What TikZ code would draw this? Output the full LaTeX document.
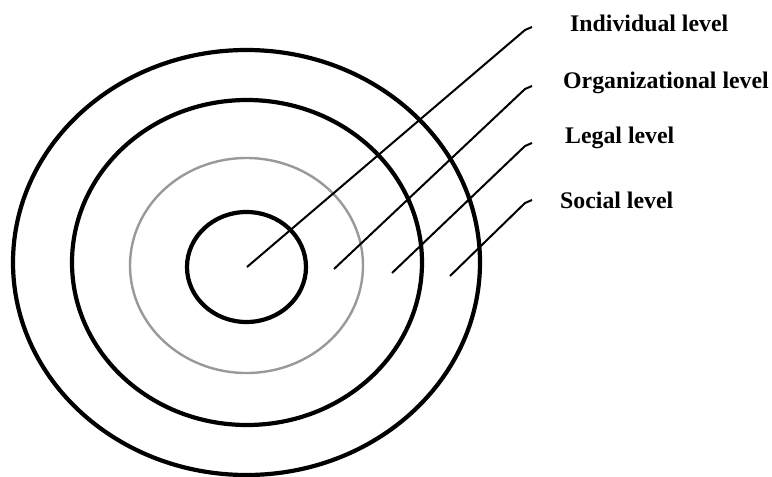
\documentclass[tikz,border=0pt]{standalone}
\usepackage{fontspec}
\setmainfont{Liberation Serif}
\begin{document}
\begin{tikzpicture}[x=1pt,y=-1pt,
  ring/.style={draw=black,line width=4.2pt},
  faintring/.style={draw=black!40,line width=2.4pt},
  leader/.style={draw=black,line width=2pt,line join=round},
  lbl/.style={anchor=west,inner sep=0pt,font=\fontsize{23.8}{28}\selectfont\bfseries}]
\useasboundingbox (0,0) rectangle (772,477);
\draw[ring] (246.5,262.5) ellipse [x radius=233.5,y radius=212.5];
\draw[ring] (247,262.5) ellipse [x radius=175,y radius=162.5];
\draw[faintring] (246.5,265.5) ellipse [x radius=116.5,y radius=107.5];
\draw[ring] (246.5,267) ellipse [x radius=59.5,y radius=55];
\node[lbl] (ind) at (570,23) {Individual level};
\node[lbl] (org) at (563,83) {Organizational level};
\node[lbl] (leg) at (565,138) {Legal level};
\node[lbl] (soc) at (560,200) {Social level};
\coordinate (s1) at (247,267);
\coordinate (s2) at (334,269);
\coordinate (s3) at (392,273);
\coordinate (s4) at (450,276);
\coordinate (k1) at (525,30);  \coordinate (e1) at (532,27);
\coordinate (k2) at (525,89);  \coordinate (e2) at (532,86);
\coordinate (k3) at (525,146); \coordinate (e3) at (532,143);
\coordinate (k4) at (525,203); \coordinate (e4) at (532,200);
\draw[leader] (s1) -- (k1) -- (e1);
\draw[leader] (s2) -- (k2) -- (e2);
\draw[leader] (s3) -- (k3) -- (e3);
\draw[leader] (s4) -- (k4) -- (e4);
\end{tikzpicture}
\end{document}
